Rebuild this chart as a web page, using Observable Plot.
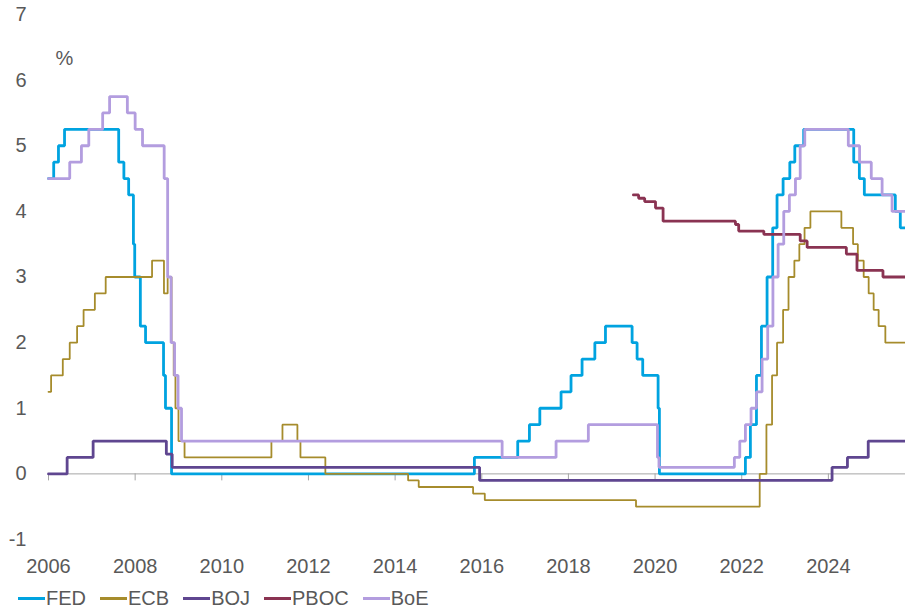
<!DOCTYPE html>
<html>
<head>
<meta charset="utf-8">
<script src="https://cdn.jsdelivr.net/npm/d3@7"></script>
<script src="https://cdn.jsdelivr.net/npm/@observablehq/plot@0.6"></script>
<style>
  html, body { margin: 0; padding: 0; background: #fff; }
  #wrap { position: relative; width: 905px; height: 608px; font-family: "Liberation Sans", Arial, sans-serif; }
  #legend { position: absolute; left: 18px; top: 586px; display: flex; align-items: center; font-size: 20px; line-height: 24px; color: #595959; }
  .item { display: flex; align-items: center; margin-right: 14px; }
  .sw { width: 27px; height: 3px; margin-right: 1px; }
</style>
</head>
<body>
<div id="wrap"><div id="chart"></div><div id="legend"></div></div>
<script>
// Axis domain / ticks
const xStart = 2006;
const xEnd = 2025.78;
const xTicks = [2006, 2008, 2010, 2012, 2014, 2016, 2018, 2020, 2022, 2024];
const yTicks = [-1, 0, 1, 2, 3, 4, 5, 6, 7];

// Series names and colours
const seriesNames = ["FED", "ECB", "BOJ", "PBOC", "BoE"];
const seriesColors = ["#00a3e0", "#a68c2c", "#5f4690", "#8a3352", "#b39ddf"];
const seriesWidths = [2.8, 1.8, 2.8, 2.8, 2.8];

// Step change points (decimal year as placed on the chart) and policy rates (%)
const fedT = [2006.00, 2006.12, 2006.23, 2006.37, 2007.62, 2007.74, 2007.85, 2007.96, 2007.99, 2008.12, 2008.24, 2008.655, 2008.70, 2008.84,
  2015.83, 2016.83, 2017.10, 2017.34, 2017.83, 2018.06, 2018.315, 2018.61, 2018.855, 2019.47, 2019.585, 2019.715, 2020.07, 2020.10,
  2022.085, 2022.20, 2022.34, 2022.455, 2022.585, 2022.715, 2022.815, 2022.955, 2023.11, 2023.225, 2023.43,
  2024.585, 2024.715, 2024.83, 2025.545, 2025.66];
const fedV = [4.5, 4.75, 5.0, 5.25, 4.75, 4.5, 4.25, 3.5, 3.0, 2.25, 2.0, 1.5, 1.0, 0,
  0.25, 0.5, 0.75, 1.0, 1.25, 1.5, 1.75, 2.0, 2.25, 2.0, 1.75, 1.5, 1.0, 0,
  0.25, 0.75, 1.5, 2.25, 3.0, 3.75, 4.25, 4.5, 4.75, 5.0, 5.25,
  4.75, 4.5, 4.25, 4.0, 3.75];

const ecbT = [2006.00, 2006.06, 2006.33, 2006.49, 2006.66, 2006.81, 2007.07, 2007.32, 2008.39, 2008.665, 2008.75, 2008.84, 2008.89, 2008.93, 2009.00, 2009.14,
  2011.145, 2011.40, 2011.745, 2011.815, 2012.39, 2014.30, 2014.545, 2015.80, 2016.07, 2019.56,
  2022.415, 2022.57, 2022.70, 2022.815, 2022.955, 2023.08, 2023.215, 2023.33, 2023.45, 2023.585,
  2024.30, 2024.57, 2024.68, 2024.815, 2024.93, 2025.045, 2025.16, 2025.315];
const ecbV = [1.25, 1.5, 1.75, 2.0, 2.25, 2.5, 2.75, 3.0, 3.25, 2.75, 3.0, 2.0, 1.5, 1.0, 0.5, 0.25,
  0.5, 0.75, 0.5, 0.25, 0, -0.1, -0.2, -0.3, -0.4, -0.5,
  0, 0.75, 1.5, 2.0, 2.5, 3.0, 3.25, 3.5, 3.75, 4.0,
  3.75, 3.5, 3.25, 3.0, 2.75, 2.5, 2.25, 2.0];

const bojT = [2006.00, 2006.43, 2007.03, 2008.72, 2008.855, 2015.95, 2024.085, 2024.44, 2024.92];
const bojV = [0, 0.25, 0.5, 0.3, 0.1, -0.1, 0.1, 0.25, 0.5];

const pbocT = [2019.50, 2019.62, 2019.76, 2020.01, 2020.185, 2021.855, 2021.93, 2022.51, 2023.35, 2023.51, 2024.415, 2024.66, 2025.26];
const pbocV = [4.25, 4.2, 4.15, 4.05, 3.85, 3.8, 3.7, 3.65, 3.55, 3.45, 3.35, 3.1, 3.0];

const boeT = [2006.00, 2006.49, 2006.76, 2006.93, 2007.25, 2007.41, 2007.82, 2008.00, 2008.17, 2008.67, 2008.75, 2008.83, 2008.91, 2008.99, 2009.07,
  2016.47, 2017.715, 2018.46, 2020.055, 2020.09,
  2021.83, 2021.955, 2022.085, 2022.215, 2022.34, 2022.47, 2022.60, 2022.72, 2022.84, 2022.97, 2023.10, 2023.24, 2023.35, 2023.455,
  2024.46, 2024.72, 2024.99, 2025.24, 2025.47];
const boeV = [4.5, 4.75, 5.0, 5.25, 5.5, 5.75, 5.5, 5.25, 5.0, 4.5, 3.0, 2.0, 1.5, 1.0, 0.5,
  0.25, 0.5, 0.75, 0.25, 0.1,
  0.25, 0.5, 0.75, 1.0, 1.25, 1.75, 2.25, 3.0, 3.5, 4.0, 4.25, 4.5, 5.0, 5.25,
  5.0, 4.75, 4.5, 4.25, 4.0];

const seriesT = [fedT, ecbT, bojT, pbocT, boeT];
const seriesV = [fedV, ecbV, bojV, pbocV, boeV];

function rows(T, V) {
  const r = T.map((t, i) => ({x: t, y: V[i]}));
  r.push({x: xEnd, y: V[V.length - 1]});
  return r;
}

const lines = seriesNames.map((n, k) =>
  Plot.line(rows(seriesT[k], seriesV[k]), {
    x: "x", y: "y", curve: "step-after",
    stroke: seriesColors[k], strokeWidth: seriesWidths[k], strokeLinejoin: "miter"
  })
);

const chart = Plot.plot({
  width: 905,
  height: 580,
  marginLeft: 48,
  marginRight: 0,
  marginTop: 14,
  marginBottom: 41,
  style: {fontFamily: "'Liberation Sans', Arial, sans-serif", fontSize: "20px", color: "#595959", background: "#fff"},
  x: {domain: [xStart, xEnd], label: null},
  y: {domain: [-1, 7], label: null},
  marks: [
    Plot.axisY({ticks: yTicks, tickSize: 0, tickPadding: 22, tickFormat: d => String(d), label: null, fontSize: 20}),
    Plot.axisX({ticks: xTicks, tickSize: 0, tickPadding: 19, tickFormat: d => String(d), label: null, fontSize: 20}),
    Plot.ruleY([0], {stroke: "#a6a6a6", strokeWidth: 1}),
    Plot.ruleX(xTicks, {x: d => d, y1: 0, y2: 0, insetBottom: -7, stroke: "#a6a6a6", strokeWidth: 1}),
    Plot.text(["%"], {frameAnchor: "top-left", dx: 7, dy: 36, textAnchor: "start", fontSize: 20, fill: "#595959"}),
    ...lines
  ]
});
document.getElementById("chart").appendChild(chart);

const legend = document.getElementById("legend");
seriesNames.forEach((n, k) => {
  const it = document.createElement("div");
  it.className = "item";
  const sw = document.createElement("span");
  sw.className = "sw";
  sw.style.background = seriesColors[k];
  const tx = document.createElement("span");
  tx.textContent = n;
  it.appendChild(sw);
  it.appendChild(tx);
  legend.appendChild(it);
});
</script>
</body>
</html>
